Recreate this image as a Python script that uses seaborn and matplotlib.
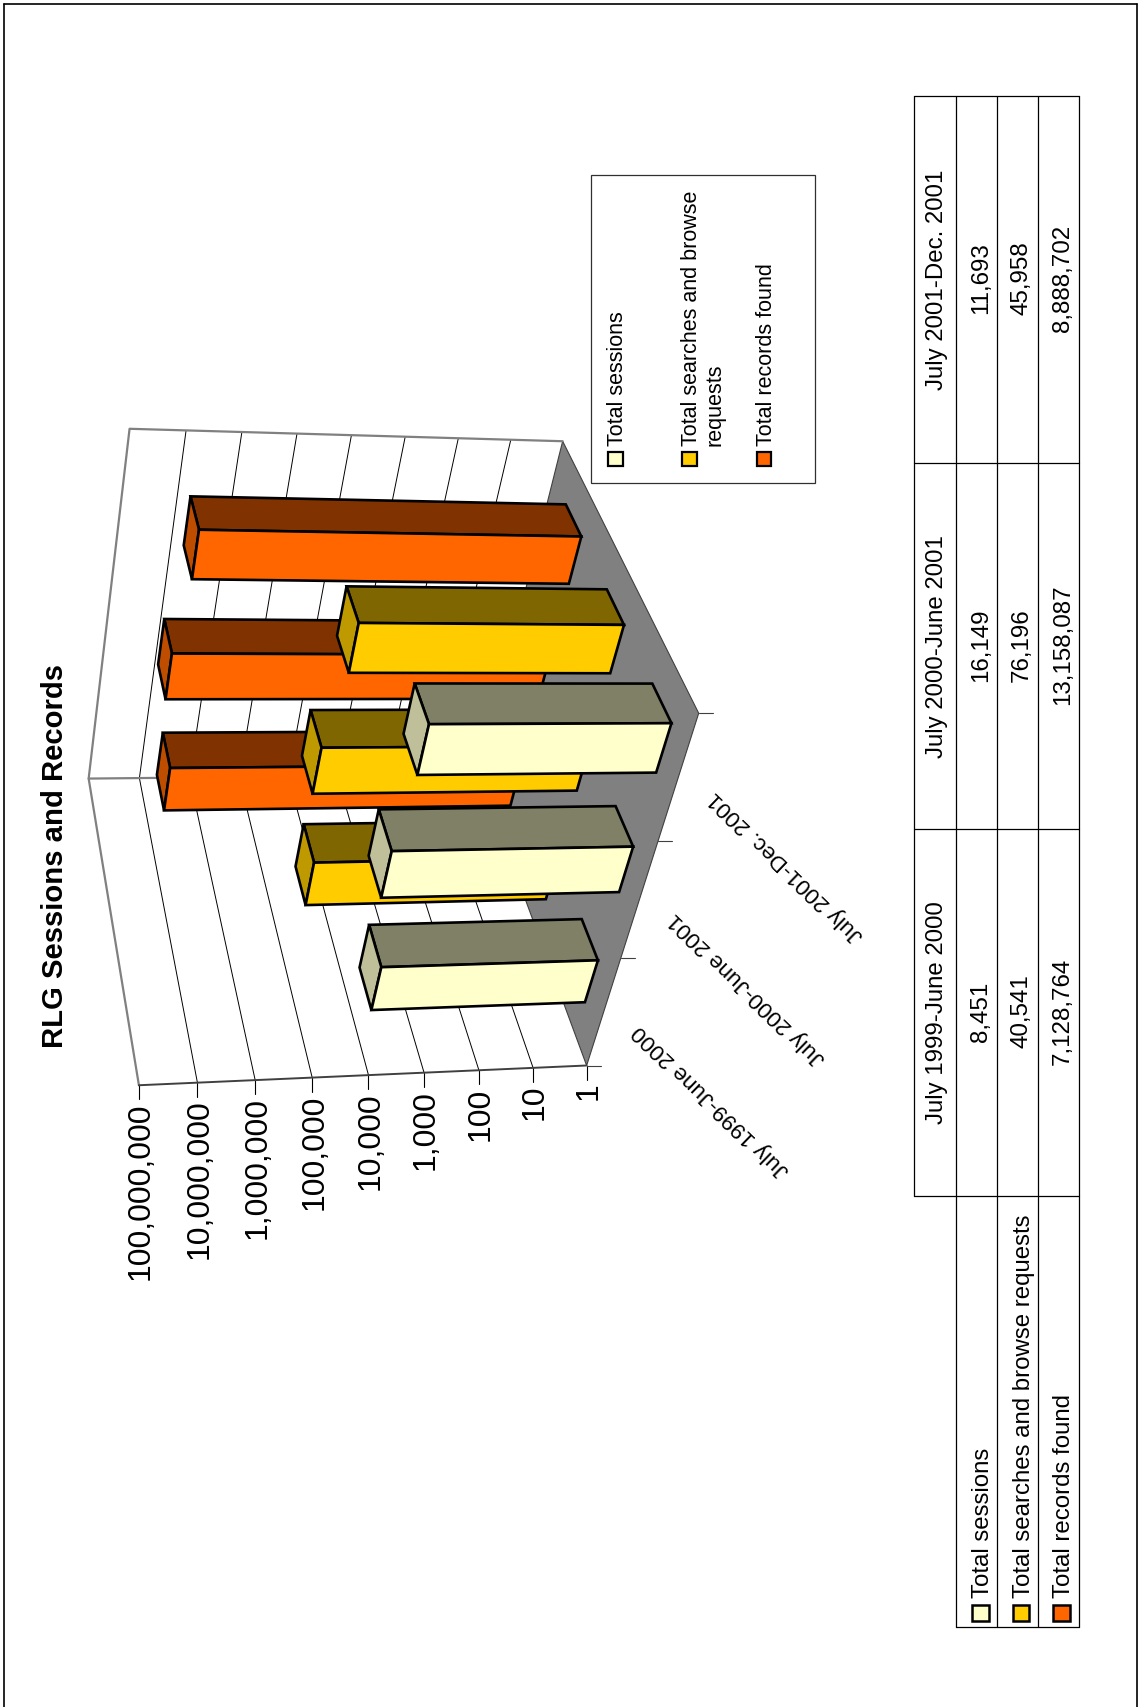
import numpy as np
import matplotlib
matplotlib.use('Agg')
import matplotlib.pyplot as plt
from matplotlib.patches import Polygon, Rectangle
import seaborn as sb

title = 'RLG Sessions and Records'
periods = ['July 1999-June 2000', 'July 2000-June 2001', 'July 2001-Dec. 2001']
series = ['Total sessions', 'Total searches and browse requests', 'Total records found']
sessions = [8451, 16149, 11693]
searches = [40541, 76196, 45958]
records = [7128764, 13158087, 8888702]
value_ticks = ['1', '10', '100', '1,000', '10,000', '100,000', '1,000,000', '10,000,000', '100,000,000']
colours = ['#FFFFCC', '#FFCC00', '#FF6600']

sb.set_theme(style='white')
plt.rcParams['font.family'] = ['Liberation Sans', 'DejaVu Sans']
plt.rcParams['text.color'] = 'black'
palette = sb.color_palette(colours)

# camera anchors: (category, series depth, decade) -> pixel on the page
world_pts = [(0, 0, 0), (1, 0, 0), (2, 0, 0), (3, 0, 0), (3, 3, 0), (0, 3, 0),
             (0, 0, 8), (0, 0, 4), (0, 3, 8), (3, 3, 8)]
page_pts = [(584, 1069.5), (621, 959.4), (659, 841), (699.5, 712.5), (562, 446), (481, 770),
            (140.5, 1082.5), (368, 1078), (88, 784), (129, 427.5)]


def fit_camera(world, page):
    rows = []
    for (x, y, z), (u, v) in zip(world, page):
        rows.append([x, y, z, 1, 0, 0, 0, 0, -u * x, -u * y, -u * z, -u])
        rows.append([0, 0, 0, 0, x, y, z, 1, -v * x, -v * y, -v * z, -v])
    return np.linalg.svd(np.array(rows, dtype=float))[2][-1].reshape(3, 4)


camera = fit_camera(world_pts, page_pts)


def pr(c, d, v):
    u, w, s = camera @ np.array([c, d, v, 1.0])
    return u / s, w / s


def line3d(ax, pts, **kw):
    xy = np.array([pr(*p) for p in pts])
    ax.plot(xy[:, 0], xy[:, 1], **kw)


def face(ax, pts, colour, z):
    ax.add_patch(Polygon([pr(*p) for p in pts], closed=True, facecolor=colour, edgecolor='black',
                         linewidth=1.9, joinstyle='miter', zorder=z))


def draw_bar(ax, c, d, value, colour, z):
    h = np.log10(value)
    w = 0.195
    c0, c1, d0, d1 = c + 0.5 - w, c + 0.5 + w, d + 0.48 - w, d + 0.48 + w
    rgb = np.array(colour)
    face(ax, [(c1, d0, 0), (c1, d1, 0), (c1, d1, h), (c1, d0, h)], tuple(rgb * 0.5), z)
    face(ax, [(c0, d0, h), (c1, d0, h), (c1, d1, h), (c0, d1, h)], tuple(rgb * 0.75), z)
    face(ax, [(c0, d0, 0), (c1, d0, 0), (c1, d0, h), (c0, d0, h)], tuple(rgb), z)


fig = plt.figure(figsize=(11.38, 17.08), dpi=100)
ax = fig.add_axes([0, 0, 1, 1])
ax.set_xlim(0, 1138)
ax.set_ylim(1708, 0)
ax.axis('off')

# page border
ax.plot([4.5, 4.5], [1708, 5], color='black', lw=1.2, zorder=1)
ax.plot([4.5, 1137], [5, 5], color='black', lw=1.2, zorder=1)
ax.plot([1137, 1137], [5, 1708], color='black', lw=1.2, zorder=1)

ax.text(55, 855.5, title, rotation=90, ha='center', va='center', fontsize=21.1, fontweight='bold')

# floor and walls
ax.add_patch(Polygon([pr(0, 0, 0), pr(3, 0, 0), pr(3, 3, 0), pr(0, 3, 0)], closed=True,
                     facecolor='#808080', edgecolor='#404040', linewidth=0.8, zorder=2))
for k in range(1, 8):
    line3d(ax, [(0, 0, k), (0, 3, k), (3, 3, k)], color='black', lw=0.7, zorder=2)
wall = dict(color='#808080', lw=1.6, zorder=2)
line3d(ax, [(0, 0, 8), (0, 3, 8), (3, 3, 8), (3, 3, 0)], **wall)
line3d(ax, [(0, 3, 8), (0, 3, 0)], **wall)
line3d(ax, [(0, 0, 0), (0, 0, 8)], color='#404040', lw=1.4, zorder=3)

for k, lab in enumerate(value_ticks):
    x, y = pr(0, 0, k)
    ax.plot([x, x], [y, y + 14], color='black', lw=0.8, zorder=2)
    ax.text(x + 2, y + 16, lab, rotation=90, ha='center', va='top', fontsize=23)
for c in range(4):
    x, y = pr(c, 0, 0)
    ax.plot([x, x + 14], [y, y], color='#404040', lw=0.8, zorder=2)
for c, lab in enumerate(periods):
    x, y = pr(c + 0.5, 0, 0)
    ax.text(x + 108, y + 87, lab, rotation=136, ha='center', va='center',
            rotation_mode='anchor', fontsize=16.2)

# bars, far series first
values = [sessions, searches, records]
z = 5
for d in [2, 1, 0]:
    for c in range(3):
        draw_bar(ax, c, d, values[d][c], palette[d], z)
        z += 1

# legend box
ax.add_patch(Rectangle((591.5, 176), 224, 308, facecolor='white', edgecolor='#303030', lw=0.9, zorder=30))
legend_x = [623.3, 697.3, 772]
legend_lines = [series[0], 'Total searches and browse', series[2]]
for i, lab in enumerate(legend_lines):
    ax.add_patch(Rectangle((legend_x[i] - 15, 452.5), 14.5, 14.5, facecolor=palette[i], edgecolor='black',
                           lw=1.6, zorder=31))
    ax.text(legend_x[i], 446, lab, rotation=90, ha='left', va='baseline', rotation_mode='anchor',
            fontsize=15.5, zorder=31)
ax.text(721, 446, 'requests', rotation=90, ha='left', va='baseline', rotation_mode='anchor',
        fontsize=15.5, zorder=31)

# data table
col_y = [97, 464, 830, 1197, 1628]
row_x = [914, 956, 997.5, 1038.5, 1079]
tab = dict(color='black', lw=0.9, zorder=2)
ax.plot([row_x[0], row_x[0]], [col_y[0], col_y[3]], **tab)
for x in row_x[1:]:
    ax.plot([x, x], [col_y[0], col_y[4]], **tab)
for y in col_y[:4]:
    ax.plot([row_x[0], row_x[4]], [y, y], **tab)
ax.plot([row_x[1], row_x[4]], [col_y[4], col_y[4]], **tab)

# columns run right to left on the rotated page
for i, lab in enumerate(periods):
    yc = (col_y[2 - i] + col_y[3 - i]) / 2 - 0.5
    ax.text(943, yc, lab, rotation=90, ha='center', va='baseline', rotation_mode='anchor', fontsize=17.3)
    for x, vals in zip([987, 1028, 1069], values):
        ax.text(x, yc - 1.5, f'{vals[i]:,}', rotation=90, ha='center', va='baseline',
                rotation_mode='anchor', fontsize=17.4)
for x, lab, colour in zip([989.5, 1030, 1070.5], series, palette):
    ax.add_patch(Rectangle((x - 17, 1605.5), 16.5, 16.5, facecolor=colour, edgecolor='black', lw=1.8, zorder=3))
    ax.text(x, 1598, lab, rotation=90, ha='left', va='baseline', rotation_mode='anchor', fontsize=17.3)

fig.savefig('out.png', dpi=100)
